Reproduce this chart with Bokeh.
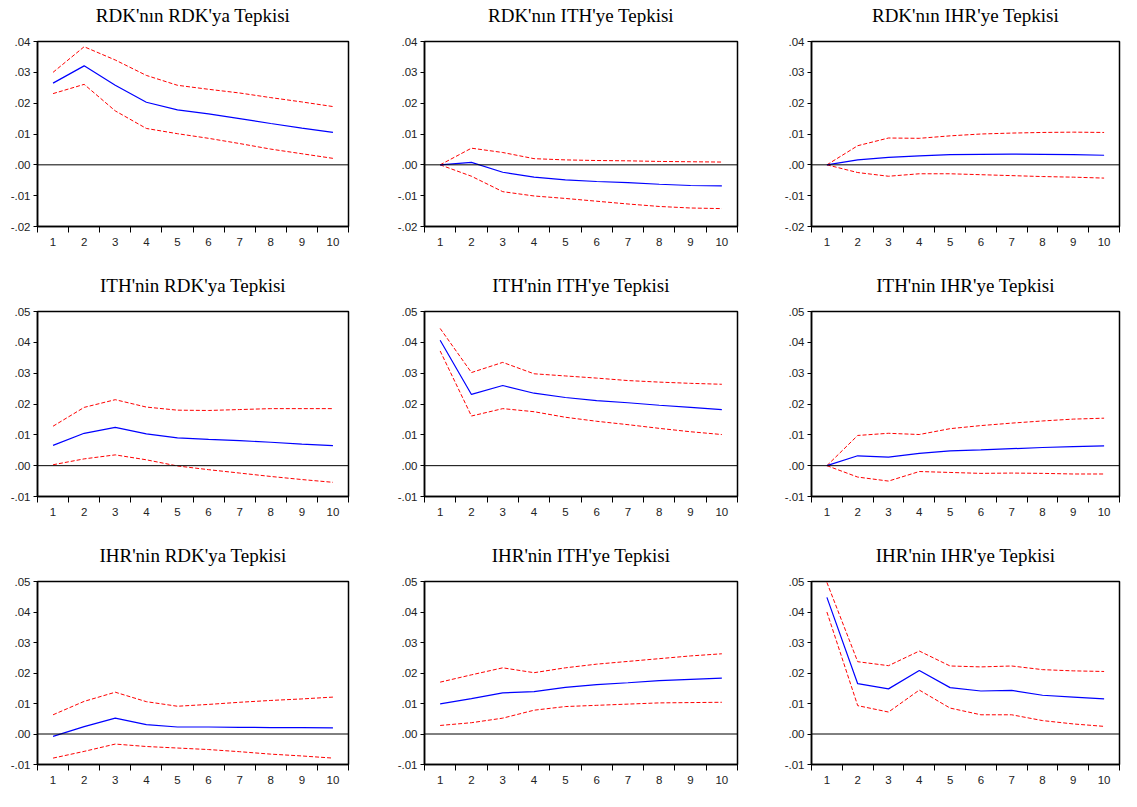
from bokeh.plotting import figure
from bokeh.layouts import column, row
from bokeh.models import FixedTicker, Span, CustomJSTickFormatter, Range1d
from bokeh.embed import file_html
from bokeh.resources import INLINE

periods = [1, 2, 3, 4, 5, 6, 7, 8, 9, 10]

titles = [
    "RDK'nın RDK'ya Tepkisi", "RDK'nın ITH'ye Tepkisi", "RDK'nın IHR'ye Tepkisi",
    "ITH'nin RDK'ya Tepkisi", "ITH'nin ITH'ye Tepkisi", "ITH'nin IHR'ye Tepkisi",
    "IHR'nin RDK'ya Tepkisi", "IHR'nin ITH'ye Tepkisi", "IHR'nin IHR'ye Tepkisi",
]

# response, upper band, lower band for each panel
rdk_rdk = [0.0265, 0.0321, 0.0258, 0.0203, 0.0178, 0.0165, 0.0150, 0.0134, 0.0119, 0.0105]
rdk_rdk_up = [0.0300, 0.0383, 0.0340, 0.0290, 0.0258, 0.0245, 0.0233, 0.0218, 0.0204, 0.0189]
rdk_rdk_lo = [0.0231, 0.0261, 0.0175, 0.0118, 0.0101, 0.0086, 0.0069, 0.0051, 0.0036, 0.0021]

rdk_ith = [0.0, 0.0008, -0.0024, -0.0040, -0.0049, -0.0054, -0.0058, -0.0063, -0.0067, -0.0068]
rdk_ith_up = [0.0, 0.0054, 0.0040, 0.0020, 0.0016, 0.0014, 0.0013, 0.0011, 0.0010, 0.0009]
rdk_ith_lo = [0.0, -0.0037, -0.0087, -0.0101, -0.0109, -0.0118, -0.0127, -0.0135, -0.0140, -0.0142]

rdk_ihr = [0.0, 0.0016, 0.0024, 0.0029, 0.0033, 0.0034, 0.0035, 0.0034, 0.0033, 0.0031]
rdk_ihr_up = [0.0, 0.0062, 0.0087, 0.0086, 0.0094, 0.0100, 0.0103, 0.0105, 0.0106, 0.0105]
rdk_ihr_lo = [0.0, -0.0025, -0.0037, -0.0029, -0.0029, -0.0032, -0.0035, -0.0038, -0.0040, -0.0043]

ith_rdk = [0.0066, 0.0105, 0.0124, 0.0103, 0.0090, 0.0085, 0.0081, 0.0076, 0.0070, 0.0065]
ith_rdk_up = [0.0128, 0.0189, 0.0214, 0.0190, 0.0180, 0.0179, 0.0182, 0.0185, 0.0185, 0.0185]
ith_rdk_lo = [0.0003, 0.0022, 0.0035, 0.0019, -0.0001, -0.0013, -0.0024, -0.0035, -0.0045, -0.0054]

ith_ith = [0.0407, 0.0231, 0.0260, 0.0235, 0.0221, 0.0211, 0.0204, 0.0196, 0.0189, 0.0182]
ith_ith_up = [0.0445, 0.0302, 0.0335, 0.0298, 0.0291, 0.0284, 0.0276, 0.0271, 0.0267, 0.0264]
ith_ith_lo = [0.0372, 0.0161, 0.0185, 0.0175, 0.0157, 0.0144, 0.0133, 0.0121, 0.0110, 0.0101]

ith_ihr = [0.0, 0.0032, 0.0028, 0.0040, 0.0048, 0.0051, 0.0055, 0.0059, 0.0062, 0.0064]
ith_ihr_up = [0.0, 0.0098, 0.0105, 0.0101, 0.0120, 0.0130, 0.0138, 0.0145, 0.0151, 0.0154]
ith_ihr_lo = [0.0, -0.0037, -0.0050, -0.0019, -0.0022, -0.0025, -0.0024, -0.0025, -0.0027, -0.0027]

ihr_rdk = [-0.0008, 0.0024, 0.0052, 0.0031, 0.0023, 0.0023, 0.0022, 0.0021, 0.0021, 0.0020]
ihr_rdk_up = [0.0063, 0.0107, 0.0137, 0.0106, 0.0091, 0.0097, 0.0104, 0.0110, 0.0115, 0.0121]
ihr_rdk_lo = [-0.0079, -0.0057, -0.0033, -0.0041, -0.0046, -0.0051, -0.0058, -0.0066, -0.0072, -0.0079]

ihr_ith = [0.0099, 0.0116, 0.0135, 0.0139, 0.0153, 0.0162, 0.0168, 0.0175, 0.0179, 0.0183]
ihr_ith_up = [0.0170, 0.0194, 0.0217, 0.0201, 0.0217, 0.0229, 0.0238, 0.0247, 0.0256, 0.0263]
ihr_ith_lo = [0.0028, 0.0037, 0.0052, 0.0078, 0.0090, 0.0094, 0.0098, 0.0102, 0.0103, 0.0104]

ihr_ihr = [0.0448, 0.0165, 0.0148, 0.0208, 0.0152, 0.0141, 0.0143, 0.0127, 0.0121, 0.0115]
ihr_ihr_up = [0.0497, 0.0237, 0.0224, 0.0272, 0.0223, 0.0220, 0.0223, 0.0211, 0.0207, 0.0205]
ihr_ihr_lo = [0.0400, 0.0093, 0.0072, 0.0144, 0.0085, 0.0063, 0.0063, 0.0044, 0.0033, 0.0025]

series = [
    (rdk_rdk, rdk_rdk_up, rdk_rdk_lo), (rdk_ith, rdk_ith_up, rdk_ith_lo), (rdk_ihr, rdk_ihr_up, rdk_ihr_lo),
    (ith_rdk, ith_rdk_up, ith_rdk_lo), (ith_ith, ith_ith_up, ith_ith_lo), (ith_ihr, ith_ihr_up, ith_ihr_lo),
    (ihr_rdk, ihr_rdk_up, ihr_rdk_lo), (ihr_ith, ihr_ith_up, ihr_ith_lo), (ihr_ihr, ihr_ihr_up, ihr_ihr_lo),
]

row_yticks = [
    [-0.02, -0.01, 0.0, 0.01, 0.02, 0.03, 0.04],
    [-0.01, 0.0, 0.01, 0.02, 0.03, 0.04, 0.05],
    [-0.01, 0.0, 0.01, 0.02, 0.03, 0.04, 0.05],
]

col_widths = [386, 388, 347]
col_left = [37, 38, 37]
col_right = [38, 37, 2]
row_heights = [270, 270, 251]
row_top = [41, 41, 39]
row_bottom = [44, 44, 27]

fmt = CustomJSTickFormatter(code="""
const a = Math.round(Math.abs(tick) * 100);
const s = (a < 10 ? '0' : '') + a;
return (tick < -1e-9 ? '-' : '') + '.' + s;
""")

rows = []
for r in range(3):
    figs = []
    for c in range(3):
        i = r * 3 + c
        resp, up, lo = series[i]
        yt = row_yticks[r]
        p = figure(width=col_widths[c], height=row_heights[r],
                   x_range=Range1d(0.5, 10.5), y_range=Range1d(yt[0], yt[-1]),
                   output_backend="svg", toolbar_location=None, title=titles[i],
                   min_border_left=col_left[c], min_border_right=col_right[c],
                   min_border_top=row_top[r], min_border_bottom=row_bottom[r])
        p.title.align = "center"
        p.title.offset = -4
        p.title.text_font = "Liberation Serif"
        p.title.text_font_style = "normal"
        p.title.text_font_size = "19px"
        p.title.text_color = "black"
        p.title.standoff = 4
        p.title.padding = dict(top=0, bottom=14, left=0, right=0)
        p.grid.visible = False
        p.outline_line_color = "black"
        p.outline_line_width = 1.5
        p.background_fill_color = "white"
        p.border_fill_color = "white"

        xa = p.below[0]
        ya = p.left[0]
        xa.ticker = FixedTicker(ticks=periods,
                                minor_ticks=[k + 0.5 for k in range(0, 11)])
        xa.major_tick_line_color = None
        xa.major_tick_out = 6
        xa.major_tick_in = 0
        xa.minor_tick_out = 6
        xa.minor_tick_in = 0
        xa.minor_tick_line_color = "black"
        xa.major_label_standoff = 5
        ya.ticker = FixedTicker(ticks=yt)
        ya.formatter = fmt
        ya.major_tick_out = 4
        ya.major_tick_in = 0
        ya.minor_tick_line_color = None
        ya.major_label_standoff = 3
        for ax in (xa, ya):
            ax.axis_line_color = "black"
            ax.axis_line_width = 1.5
            ax.major_label_text_font = "Liberation Sans"
            ax.major_label_text_font_size = "11.5px"
            ax.major_label_text_color = "#222222"

        p.add_layout(Span(location=0, dimension="width", line_color="black", line_width=1))
        p.line(periods, up, line_color="#ff0000", line_width=1, line_dash="4 2")
        p.line(periods, lo, line_color="#ff0000", line_width=1, line_dash="4 2")
        p.line(periods, resp, line_color="#0000ff", line_width=1.2)
        figs.append(p)
    rows.append(row(*figs))

layout = column(*rows)
open("out.html", "w").write(file_html(layout, INLINE))
